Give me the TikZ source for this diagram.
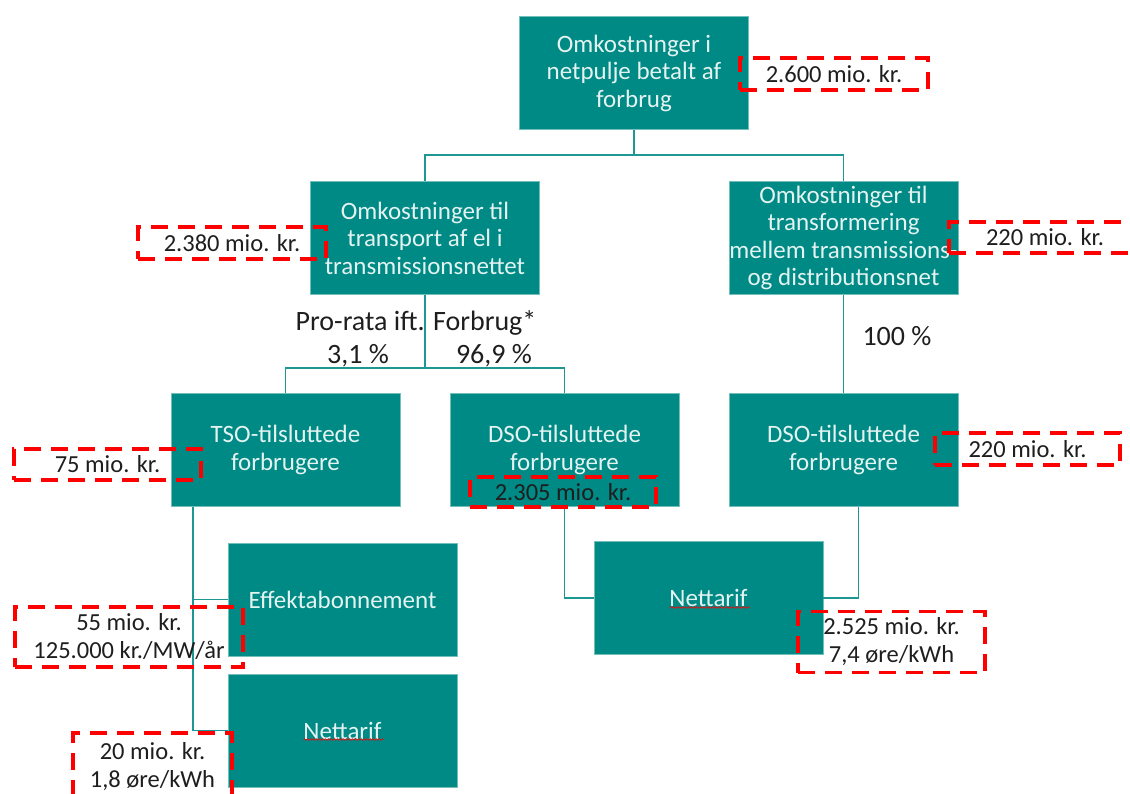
\documentclass[tikz,border=0pt]{standalone}
\usepackage{fontspec}
\setmainfont{Carlito}
\usetikzlibrary{decorations.pathmorphing}
\definecolor{boxteal}{RGB}{0,138,133}
\definecolor{linkteal}{RGB}{30,150,148}
\definecolor{boxtext}{RGB}{228,243,241}
\definecolor{labeltext}{RGB}{30,30,30}
\definecolor{dashred}{RGB}{255,0,0}
\begin{document}
\begin{tikzpicture}[x=1pt,y=-1pt,
  tealbox/.style={fill=boxteal, draw=boxteal!55!white, line width=0.8pt, minimum width=229pt, minimum height=113pt, inner sep=0pt, align=center, text=boxtext, font=\fontsize{25}{27.5}\selectfont},
  link/.style={draw=linkteal, line width=1.8pt},
  costlabel/.style={draw=dashred, dash pattern=on 17pt off 10pt, line width=3.8pt, inner sep=0pt, align=center, text=labeltext, font=\fontsize{24.5}{28}\selectfont},
  pct/.style={text=labeltext, font=\fontsize{28}{32}\selectfont, inner sep=0pt},
  squiggle/.style={draw=red, line width=0.6pt, decorate, decoration={snake, amplitude=0.8pt, segment length=3pt}}
]
\useasboundingbox (0,0) rectangle (1130,794);
\clip (0,0) rectangle (1130,794);

% boxes
\node[tealbox] (A) at (634,73) {Omkostninger i\\netpulje betalt af\\forbrug};
\node[tealbox] (B) at (425,238) {Omkostninger til\\transport af el i\\transmissionsnettet};
\node[tealbox] (C) at (843.5,238) {Omkostninger til\\transformering\\mellem transmissions-\\og distributionsnet};
\node[tealbox] (D) at (285.5,450) {TSO-tilsluttede\\forbrugere};
\node[tealbox] (E) at (564.5,450) {DSO-tilsluttede\\forbrugere};
\node[tealbox] (F) at (843.5,450) {DSO-tilsluttede\\forbrugere};
\node[tealbox] (G) at (342.5,599.5) {Effektabonnement};
\node[tealbox] (H) at (342.5,730.5) {Nettarif};
\node[tealbox] (I) at (708.5,598) {Nettarif};

% spell-check squiggles
\draw[squiggle] ([xshift=-39pt,yshift=-9pt]H.center) -- ([xshift=41pt,yshift=-9pt]H.center);
\draw[squiggle] ([xshift=-39pt,yshift=-9.5pt]I.center) -- ([xshift=41pt,yshift=-9.5pt]I.center);

% junctions
\coordinate (j1) at (634,155);
\coordinate (j2) at (425,368);

% connectors
\draw[link] (A.south) -- (j1);
\draw[link] (j1) -| (B.north);
\draw[link] (j1) -| (C.north);
\draw[link] (B.south) -- (j2);
\draw[link] (j2) -| (D.north);
\draw[link] (j2) -| (E.north);
\draw[link] (C.south) -- (F.north);
\draw[link] ([xshift=-92.5pt]D.south) |- (G.west);
\draw[link] ([xshift=-92.5pt]D.south) |- (H.west);
\draw[link] (E.south) |- (I.west);
\draw[link] ([xshift=15pt]F.south) |- (I.east);

% percentages
\node[pct] (p1) at (416,323) {Pro-rata ift. Forbrug*};
\node[pct] (p2) at (358,356) {3,1 \%};
\node[pct] (p3) at (494,356) {96,9 \%};
\node[pct] (p4) at (897,336) {100 \%};

% cost labels
\node[costlabel, minimum width=188pt, minimum height=32pt] (L1) at (834,74) {2.600 mio. kr.};
\node[costlabel, minimum width=188pt, minimum height=32pt] (L2) at (232,243) {2.380 mio. kr.};
\node[costlabel, minimum width=192pt, minimum height=31pt] (L3) at (1045,237.5) {220 mio. kr.};
\node[costlabel, minimum width=187pt, minimum height=31pt] (L4) at (107.5,464.5) {75 mio. kr.};
\node[costlabel, minimum width=186pt, minimum height=30pt] (L5) at (563,492) {2.305 mio. kr.};
\node[costlabel, minimum width=185pt, minimum height=32pt] (L6) at (1027.5,449) {220 mio. kr.};
\node[costlabel, minimum width=228pt, minimum height=60pt] (L7) at (129,637) {55 mio. kr.\\125.000 kr./MW/år};
\node[costlabel, minimum width=159pt, minimum height=67pt] (L8) at (152.5,766.5) {20 mio. kr.\\1,8 øre/kWh};
\node[costlabel, minimum width=187pt, minimum height=61pt] (L9) at (891.5,642) {2.525 mio. kr.\\7,4 øre/kWh};
\end{tikzpicture}
\end{document}
